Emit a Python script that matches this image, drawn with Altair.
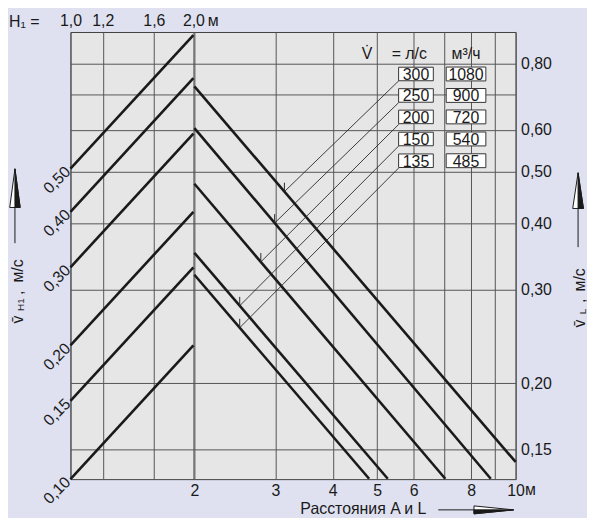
import math
import altair as alt
import pandas as pd

# ---------------- data ----------------
H1_VALUES = [1.0, 1.2, 1.6, 2.0]                 # top axis, H1 in m
DIST_LABELS = [2, 3, 4, 5, 6, 8, 10]             # bottom axis labels, A and L in m
DIST_GRID = [2, 3, 4, 5, 6, 7, 8, 9, 10]
VL_GRID = [0.15, 0.20, 0.30, 0.40, 0.50, 0.60, 0.70, 0.80]   # right axis, v_L m/s
VH1_LABELS = [0.10, 0.15, 0.20, 0.30, 0.40, 0.50]            # left axis, v_H1 m/s

RISE_H1 = [1.0, 2.0]
RISE_V_START = [0.50, 0.40, 0.30, 0.20, 0.15, 0.10]
RISE_V_END = [1.00, 0.80, 0.60, 0.40, 0.30, 0.20]

FLOW_LS = [300, 250, 200, 150, 135]
FLOW_M3H = [1080, 900, 720, 540, 485]
FALL_L_START = [2.0, 2.0, 2.0, 2.0, 2.0]
FALL_V_START = [0.725, 0.605, 0.475, 0.352, 0.320]
FALL_L_END = [10.0, 8.83, 7.03, 5.27, 4.80]
FALL_V_END = [0.142, 0.132, 0.132, 0.132, 0.132]
MARK_L = [3.14, 2.99, 2.79, 2.51, 2.51]

# annotation layout (in data units of the distance / v_L scales)
BOX_V = [0.765, 0.697, 0.635, 0.577, 0.525]
LEADER_V0 = [0.743, 0.676, 0.615, 0.560, 0.509]
LEADER_L0 = 5.57
BOX_L_LEFT = 6.07
BOX_L_RIGHT = 7.80
HEAD_V = 0.835

FONT = "Liberation Sans"
TXT = "#1a1a1a"
LINE = "#1a1a1a"
GRID = "#555555"
LAB = 16

# ---------------- scales / axes ----------------
xA = alt.Scale(type="log", domain=[1.075, 10], nice=False)
yA = alt.Scale(type="log", domain=[0.1318, 0.918], nice=False)
xB = alt.Scale(type="log", domain=[1.0, 12.3], nice=False)
yB = alt.Scale(type="log", domain=[0.1, 1.016], nice=False)

axis_bottom = alt.Axis(orient="bottom", values=DIST_GRID, grid=True, gridColor=GRID, gridWidth=1,
                       ticks=False, tickSize=0, domain=False, labelFlush=False, labelOverlap=False,
                       labelExpr="indexof(%s, datum.value) >= 0 ? datum.value + '' : ''" % str(DIST_LABELS),
                       labelFontSize=LAB, labelPadding=4, labelColor=TXT, labelFont=FONT, title=None)
axis_right = alt.Axis(orient="right", values=VL_GRID, grid=True, gridColor=GRID, gridWidth=1,
                      ticks=False, tickSize=0, domain=False, labelFlush=False, labelOverlap=False,
                      labelExpr="datum.value == 0.7 ? '' : replace(format(datum.value, '.2f'), '.', ',')",
                      labelFontSize=LAB, labelPadding=5, labelColor=TXT, labelFont=FONT, title=None)
axis_top = alt.Axis(orient="top", values=H1_VALUES, grid=True, gridColor=GRID, gridWidth=1,
                    ticks=False, tickSize=0, domain=False, labelFlush=False, labelOverlap=False,
                    labelExpr="replace(format(datum.value, '.1f'), '.', ',')",
                    labelFontSize=LAB, labelPadding=4, labelColor=TXT, labelFont=FONT, title=None)
axis_left = alt.Axis(orient="left", values=VH1_LABELS, grid=False,
                     ticks=False, tickSize=0, domain=False, labelFlush=False, labelOverlap=False,
                     labelExpr="replace(format(datum.value, '.2f'), '.', ',')",
                     labelAngle=315, labelAlign="right", labelBaseline="middle",
                     labelFontSize=LAB, labelPadding=3, labelColor=TXT, labelFont=FONT, title=None)

XA = alt.X("L:Q", scale=xA, axis=axis_bottom)
YA = alt.Y("v:Q", scale=yA, axis=axis_right)
XB = alt.X("H1:Q", scale=xB, axis=axis_top)
YB = alt.Y("vh:Q", scale=yB, axis=axis_left)

# ---------------- tables ----------------
rise_rows = []
for i, (a, b) in enumerate(zip(RISE_V_START, RISE_V_END)):
    rise_rows.append({"id": i, "H1": RISE_H1[0], "vh": a})
    rise_rows.append({"id": i, "H1": RISE_H1[1], "vh": b})
rise_df = pd.DataFrame(rise_rows)

fall_rows = []
for i in range(len(FLOW_LS)):
    fall_rows.append({"id": i, "L": FALL_L_START[i], "v": FALL_V_START[i]})
    fall_rows.append({"id": i, "L": FALL_L_END[i], "v": FALL_V_END[i]})
fall_df = pd.DataFrame(fall_rows)


def on_line(i, L):
    t = (math.log(L) - math.log(FALL_L_START[i])) / (math.log(FALL_L_END[i]) - math.log(FALL_L_START[i]))
    return math.exp(math.log(FALL_V_START[i]) + t * (math.log(FALL_V_END[i]) - math.log(FALL_V_START[i])))


mark_df = pd.DataFrame({"L": MARK_L, "v": [on_line(i, MARK_L[i]) for i in range(len(MARK_L))]})

leader_rows = []
for i in range(len(FLOW_LS)):
    leader_rows.append({"id": i, "L": LEADER_L0, "v": LEADER_V0[i]})
    leader_rows.append({"id": i, "L": MARK_L[i], "v": on_line(i, MARK_L[i])})
leader_df = pd.DataFrame(leader_rows)

box_df = pd.DataFrame(
    [{"L": BOX_L_LEFT, "v": BOX_V[i], "t": str(FLOW_LS[i]), "col": "ls"} for i in range(len(FLOW_LS))]
    + [{"L": BOX_L_RIGHT, "v": BOX_V[i], "t": str(FLOW_M3H[i]), "col": "m3"} for i in range(len(FLOW_LS))]
)

head_df = pd.DataFrame({"L": [4.75, 5.87, BOX_L_RIGHT], "v": [HEAD_V] * 3, "t": ["V\u0307", "=  л/с", "м³/ч"]})

ONE = pd.DataFrame({"a": [0]})

# ---------------- layers: distance / v_L scales ----------------
fall_lines = alt.Chart(fall_df).mark_line(color=LINE, strokeWidth=2.6).encode(XA, YA, detail="id:N")
leaders = alt.Chart(leader_df).mark_line(color="#2a2a2a", strokeWidth=0.9).encode(XA, YA, detail="id:N")
markers = alt.Chart(mark_df).mark_point(shape="M0,0L0,-1", size=324, filled=False, stroke="#2a2a2a",
                                        strokeWidth=1, opacity=1).encode(XA, YA)
box_left = alt.Chart(box_df[box_df.col == "ls"]).mark_point(
    shape="M-1,-0.39L1,-0.39L1,0.39L-1,0.39Z", size=1225, filled=True, fill="white",
    stroke="#333333", strokeWidth=1, opacity=1).encode(XA, YA)
box_right = alt.Chart(box_df[box_df.col == "m3"]).mark_point(
    shape="M-1,-0.35L1,-0.35L1,0.35L-1,0.35Z", size=1600, filled=True, fill="white",
    stroke="#333333", strokeWidth=1, opacity=1).encode(XA, YA)
box_text = alt.Chart(box_df).mark_text(font=FONT, fontSize=16, color=TXT, baseline="middle", dy=1).encode(
    XA, YA, text="t:N")
head_text = alt.Chart(head_df).mark_text(font=FONT, fontSize=16, color=TXT, baseline="middle").encode(
    XA, YA, text="t:N")
m_bottom = alt.Chart(pd.DataFrame({"L": [10]})).mark_text(
    text="м", font=FONT, fontSize=LAB, color=TXT, baseline="middle", dx=15).encode(XA, y=alt.value(462))


def deco_text(text, x, y, size=LAB, angle=0, align="center"):
    return alt.Chart(ONE).mark_text(text=text, font=FONT, fontSize=size, angle=angle, align=align,
                                    baseline="middle", color=TXT).encode(x=alt.value(x), y=alt.value(y))


def deco_point(x, y, shape, size, fill):
    return alt.Chart(ONE).mark_point(shape=shape, size=size, filled=True, fill=fill, stroke=LINE,
                                     strokeWidth=1, opacity=1).encode(x=alt.value(x), y=alt.value(y))


def deco_rule(x, y, x2, y2):
    return alt.Chart(ONE).mark_rule(color=LINE, strokeWidth=1).encode(
        x=alt.value(x), y=alt.value(y), x2=alt.value(x2), y2=alt.value(y2))


decor = [
    deco_text("H\u2081 =", -62, -10, align="left"),
    # left title + arrow
    deco_text("v\u0304", -53, 290, angle=270),
    deco_text("H1", -50, 275, size=10, angle=270),
    deco_text(",", -53, 263, angle=270),
    deco_text("м/с", -53, 241, angle=270),
    deco_rule(-56, 170, -56, 213),
    deco_point(-56, 157.5, "M0,-1L0.27,1L-0.27,1Z", 1521, "white"),
    deco_point(-56, 157.5, "M0,-1L0.27,1L0,1Z", 1521, LINE),
    # right title + arrow
    deco_text("v\u0304", 514, 294, angle=270),
    deco_text("L", 517, 282, size=10, angle=270),
    deco_text(",", 514, 271, angle=270),
    deco_text("м/с", 514, 250, angle=270),
    deco_rule(512, 178, 512, 217),
    deco_point(512, 160, "M0,-1L0.3,1L-0.3,1Z", 1296, "white"),
    deco_point(512, 160, "M0,-1L0.3,1L0,1Z", 1296, LINE),
    # bottom title + arrow
    deco_text("Расстояния A и L", 359, 481, size=16, align="right"),
    deco_rule(371, 482, 407, 482),
    deco_point(427, 482, "M1,0L-1,-0.2L-1,0.2Z", 1600, "white"),
    deco_point(427, 482, "M1,0L-1,0L-1,0.2Z", 1600, LINE),
]

layer_a = alt.layer(fall_lines, leaders, markers, box_left, box_right, box_text, head_text, m_bottom, *decor)

# ---------------- layers: H1 / v_H1 scales ----------------
rise_lines = alt.Chart(rise_df).mark_line(color=LINE, strokeWidth=2.6).encode(XB, YB, detail="id:N")
m_top = alt.Chart(pd.DataFrame({"H1": [2.0]})).mark_text(
    text="м", font=FONT, fontSize=LAB, color=TXT, baseline="middle", dx=20).encode(XB, y=alt.value(-11))
layer_b = alt.layer(rise_lines, m_top)

chart = alt.layer(layer_a, layer_b).resolve_scale(x="independent", y="independent").properties(
    width=449, height=451,
    padding={"left": 63, "top": 22, "right": 72, "bottom": 37},
    autosize=alt.AutoSizeParams(type="none"),
    background="#dfe1f0",
).configure_view(fill="#e6e6e7", stroke="#404040", strokeWidth=1)

chart.save("out.html", embed_options={"renderer": "svg", "actions": False})
